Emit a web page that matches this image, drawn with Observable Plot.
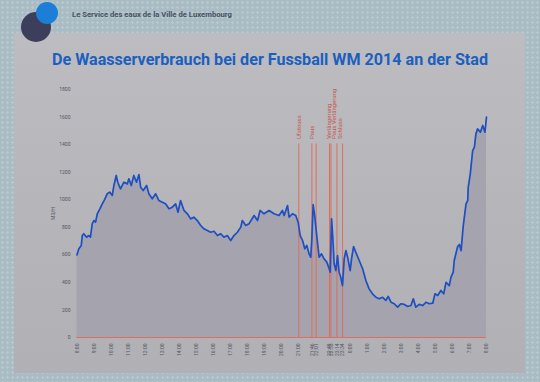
<!DOCTYPE html>
<html>
<head>
<meta charset="utf-8">
<script src="https://cdn.jsdelivr.net/npm/d3@7"></script>
<script src="https://cdn.jsdelivr.net/npm/@observablehq/plot@0.6"></script>
<style>
  html, body { margin:0; padding:0; }
  body {
    width:540px; height:382px; overflow:hidden; position:relative;
    background-color:#a9bbc3;
    background-image: radial-gradient(circle, rgba(200,215,222,0.45) 1.1px, transparent 1.5px);
    background-size:5px 5px;
    font-family: Roboto, "Open Sans", sans-serif;
  }
  #panel { position:absolute; left:14px; top:33px; width:511px; height:340px;
    background: linear-gradient(#bdbdc1, #b4b4b9 60%, #b0b0b5); }
  .circ { position:absolute; border-radius:50%; }
  #header { position:absolute; left:72px; top:10px; font-size:7.6px; font-weight:700; color:#4a5363; white-space:nowrap; }
  #title { position:absolute; left:52px; top:52px; font-size:16px; line-height:16px; font-weight:700; color:#1b5fbf; white-space:nowrap; transform-origin:0 0; }
  #chart { position:absolute; left:0; top:80px; }
  #chart svg { overflow:visible; }
</style>
</head>
<body>
<div id="panel"></div>
<div class="circ" style="left:21px;top:12px;width:30px;height:30px;background:#3c3e5b;"></div>
<div class="circ" style="left:36px;top:2px;width:22px;height:22px;background:#1c7ed6;"></div>
<div id="header">Le Service des eaux de la Ville de Luxembourg</div>
<div id="title">De Waasserverbrauch bei der Fussball WM 2014 an der Stad</div>
<div id="chart"></div>
<script>
// hours after 8:00 (13 July 2014) and water flow in m3/h
const hours = [0,0.11,0.25,0.31,0.40,0.56,0.69,0.79,0.89,0.99,1.09,1.19,1.34,1.48,1.61,1.77,1.92,2.07,2.16,2.30,2.39,2.55,2.75,2.95,3.04,3.18,3.33,3.49,3.63,3.73,3.88,4.08,4.21,4.41,4.61,4.80,5.00,5.19,5.39,5.59,5.78,5.92,6.07,6.27,6.47,6.66,6.85,7.05,7.25,7.44,7.64,7.83,8.03,8.23,8.42,8.61,8.81,9.01,9.20,9.40,9.60,9.69,9.89,10.08,10.38,10.58,10.73,10.96,11.26,11.55,11.84,12.04,12.14,12.34,12.43,12.63,12.82,12.96,13.08,13.22,13.35,13.47,13.60,13.70,13.76,13.84,13.94,14.06,14.19,14.33,14.48,14.64,14.78,14.84,14.92,14.99,15.07,15.17,15.27,15.36,15.46,15.56,15.66,15.76,15.86,16.01,16.09,16.21,16.34,16.54,16.74,16.93,17.12,17.32,17.52,17.71,17.91,18.10,18.24,18.40,18.59,18.79,18.98,19.18,19.38,19.57,19.71,19.86,20.06,20.26,20.45,20.65,20.85,20.98,21.14,21.33,21.49,21.63,21.82,21.92,22.05,22.11,22.31,22.41,22.51,22.64,22.80,22.90,22.93,23.05,23.09,23.19,23.29,23.38,23.48,23.64,23.78,23.91,24.0];
const flow = [600,644,668,740,753,728,740,728,825,849,837,898,934,970,999,1043,1055,1031,1103,1176,1127,1079,1127,1115,1152,1103,1176,1127,1183,1091,1067,1103,1043,1007,1043,994,982,970,934,946,970,909,994,922,898,861,873,849,813,789,776,764,771,740,753,728,740,704,740,764,801,849,813,825,885,849,922,898,922,898,885,922,885,958,873,898,885,837,740,704,644,668,607,583,704,965,873,728,583,607,571,547,499,474,861,728,535,486,595,474,438,377,571,631,583,486,571,660,619,559,499,414,353,317,292,281,292,269,298,256,245,220,245,240,225,232,281,220,240,232,256,245,249,317,305,341,317,401,377,438,474,559,660,675,631,813,970,994,1091,1188,1236,1357,1381,1478,1515,1490,1539,1490,1600];

// match events
const eventTimes = ["21:00","21:46","22:01","22:48","22:53","23:14","23:34"];
const eventLabels = ["Ufstouss","Paus","Verlängerung","Paus Verlängerung","Schluss"];
const eventLabelTimes = ["21:00","21:48","22:47","23:05","23:24"];

// axis tick labels
const xTickLabels = ["8:00","9:00","10:00","11:00","12:00","13:00","14:00","15:00","16:00","17:00","18:00","19:00","20:00","21:00","21:46","22:01","22:48","22:53","23:14","23:34","0:00","1:00","2:00","3:00","4:00","5:00","6:00","7:00","8:00"];
const yTicks = [0,200,400,600,800,1000,1200,1400,1600,1800];

function offset(str, last) {
  const [H, M] = str.split(":").map(Number);
  let m = ((H*60 + M - 480) % 1440 + 1440) % 1440;
  if (last && m === 0) m = 1440;
  return m / 60;
}
const data = hours.map((h, i) => ({h, v: flow[i]}));
const evX = eventTimes.map(t => offset(t));
const labs = eventLabels.map((t, i) => ({x: offset(eventLabelTimes[i]), t}));
const tickPos = xTickLabels.map((t, i) => offset(t, i === xTickLabels.length - 1));
const labelOf = new Map(tickPos.map((p, i) => [p, xTickLabels[i]]));

const red = "#de6e5e";
const chart = Plot.plot({
  width: 540, height: 300,
  marginLeft: 76.5, marginRight: 54, marginTop: 9, marginBottom: 43,
  x: {domain: [0, 24]},
  y: {domain: [0, 1800]},
  style: {background: "transparent", fontFamily: "Roboto, sans-serif", color: "#55555c"},
  marks: [
    Plot.areaY(data, {x: "h", y: "v", fill: "#a5a3ad"}),
    Plot.ruleX(evX, {x: d => d, y1: 0, y2: 1405, stroke: red, strokeWidth: 1}),
    Plot.ruleY([0], {stroke: red, strokeWidth: 1}),
    Plot.lineY(data, {x: "h", y: "v", stroke: "#1d4fc2", strokeWidth: 1.7}),
    Plot.text(labs, {x: "x", y: 1440, text: "t", rotate: -90, textAnchor: "start", fill: "#c9584b", fontSize: 6}),
    Plot.axisX({ticks: tickPos, tickFormat: d => labelOf.get(d), tickRotate: -90, tickSize: 0, tickPadding: 6, fontSize: 5, label: null}),
    Plot.axisY({ticks: yTicks, tickFormat: d => String(d), tickSize: 0, tickPadding: 6.5, fontSize: 5, label: "M3/H", labelAnchor: "center", labelArrow: "none", labelOffset: 26})
  ]
});
document.getElementById("chart").appendChild(chart);

const title = document.getElementById("title");
const w = title.getBoundingClientRect().width;
title.style.transform = `scaleX(${436 / w})`;
const header = document.getElementById("header");
const hw = header.getBoundingClientRect().width;
header.style.transform = `scaleX(${160 / hw})`;
header.style.transformOrigin = "0 0";
</script>
</body>
</html>
